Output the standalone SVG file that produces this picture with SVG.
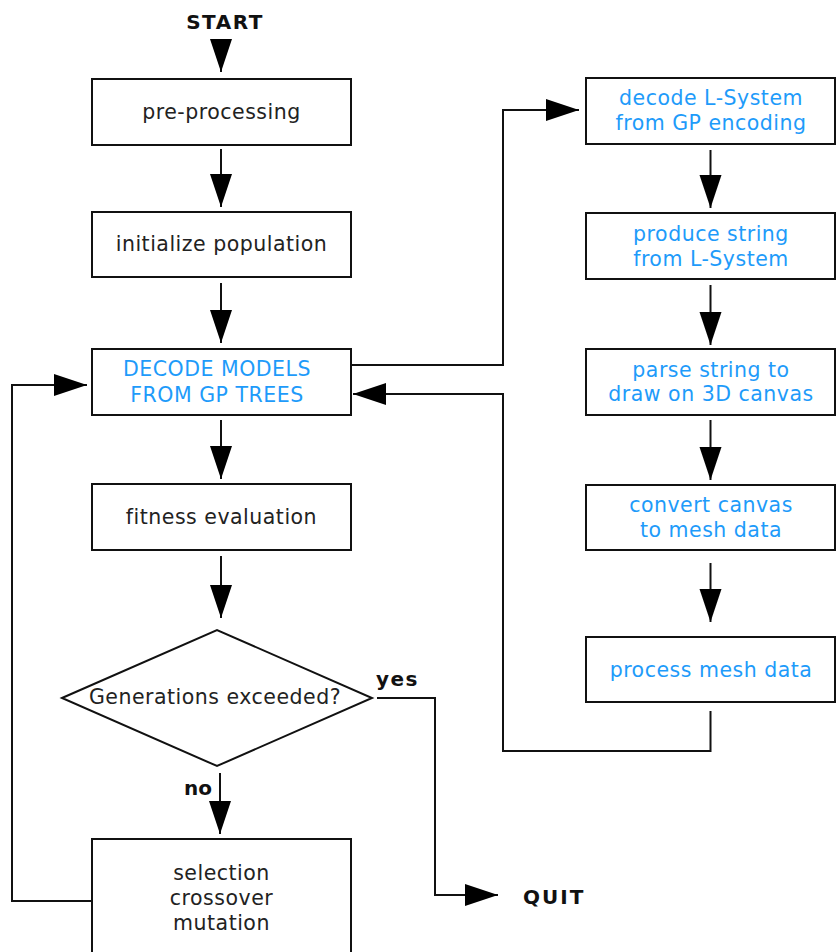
<svg xmlns="http://www.w3.org/2000/svg" width="837" height="952" viewBox="0 0 837 952">
<style>
  .box { fill: #fff; stroke: #111; stroke-width: 2; }
  .t { font-family: "DejaVu Sans", Verdana, sans-serif; font-size: 20.5px; letter-spacing: 0.5px; fill: #222; text-anchor: middle; }
  .b { fill: #1E9BFA; }
  .lbl { font-family: "DejaVu Sans", Verdana, sans-serif; font-weight: bold; font-size: 20px; fill: #111; }
  .c { fill: none; stroke: #111; stroke-width: 2; marker-end: url(#ah); }
</style>
<defs>
  <marker id="ah" markerUnits="userSpaceOnUse" markerWidth="34" markerHeight="24" refX="33" refY="11" orient="auto">
    <path d="M0,0 L33,11 L0,22 Z" fill="#000"/>
  </marker>
</defs>
<rect width="837" height="952" fill="#fff"/>

<g id="connectors">
  <line class="c" x1="221" y1="39" x2="221" y2="72"/>
  <line class="c" x1="221" y1="149" x2="221" y2="207"/>
  <line class="c" x1="221" y1="283" x2="221" y2="343"/>
  <line class="c" x1="221" y1="420" x2="221" y2="479"/>
  <line class="c" x1="221" y1="556" x2="221" y2="618"/>
  <line class="c" x1="220" y1="773" x2="220" y2="834"/>
  <polyline class="c" points="377,698 435,698 435,895 498,895"/>
  <polyline class="c" points="91,901 12,901 12,385 87,385"/>
  <polyline class="c" points="352,365 503,365 503,110 579,110"/>
  <polyline class="c" points="710.5,711 710.5,751 503,751 503,394 353,394"/>
  <line class="c" x1="710.5" y1="150" x2="710.5" y2="208"/>
  <line class="c" x1="710.5" y1="285" x2="710.5" y2="345"/>
  <line class="c" x1="710.5" y1="420" x2="710.5" y2="480"/>
  <line class="c" x1="710.5" y1="563" x2="710.5" y2="622"/>
</g>

<g id="start">
  <text class="lbl" x="225" y="29" text-anchor="middle" font-size="21" letter-spacing="1.5">START</text>
</g>

<g id="preprocessing">
  <rect class="box" x="92" y="79" width="259" height="66"/>
  <text class="t" x="221.5" y="119">pre-processing</text>
</g>

<g id="init">
  <rect class="box" x="92" y="212" width="259" height="65"/>
  <text class="t" x="221.5" y="251">initialize population</text>
</g>

<g id="decode-models">
  <rect class="box" x="92" y="349" width="259" height="66"/>
  <text class="t b" x="217" y="376">DECODE MODELS</text>
  <text class="t b" x="217" y="402">FROM GP TREES</text>
</g>

<g id="fitness">
  <rect class="box" x="92" y="484" width="259" height="66"/>
  <text class="t" x="221.5" y="524">fitness evaluation</text>
</g>

<g id="generations">
  <polygon class="box" points="62,698 217,630 372,698 217,766"/>
  <text class="t" x="215" y="704">Generations exceeded?</text>
  <text class="lbl" x="376" y="686" letter-spacing="1.5">yes</text>
  <text class="lbl" x="184" y="795">no</text>
</g>

<g id="selection">
  <rect class="box" x="92" y="839" width="259" height="130"/>
  <text class="t" x="221.5" y="880">selection</text>
  <text class="t" x="221.5" y="905">crossover</text>
  <text class="t" x="221.5" y="930">mutation</text>
</g>

<g id="quit">
  <text class="lbl" x="523" y="904" font-size="22" letter-spacing="2">QUIT</text>
</g>

<g id="decode-lsystem">
  <rect class="box" x="586" y="78" width="249" height="66"/>
  <text class="t b" x="711" y="105">decode L-System</text>
  <text class="t b" x="711" y="130">from GP encoding</text>
</g>

<g id="produce-string">
  <rect class="box" x="586" y="213" width="249" height="66"/>
  <text class="t b" x="711" y="241">produce string</text>
  <text class="t b" x="711" y="266">from L-System</text>
</g>

<g id="parse-string">
  <rect class="box" x="586" y="349" width="249" height="66"/>
  <text class="t b" x="711" y="377">parse string to</text>
  <text class="t b" x="711" y="401">draw on 3D canvas</text>
</g>

<g id="convert-canvas">
  <rect class="box" x="586" y="485" width="249" height="65"/>
  <text class="t b" x="711" y="512">convert canvas</text>
  <text class="t b" x="711" y="537">to mesh data</text>
</g>

<g id="process-mesh">
  <rect class="box" x="586" y="637" width="249" height="65"/>
  <text class="t b" x="711" y="677">process mesh data</text>
</g>
</svg>
